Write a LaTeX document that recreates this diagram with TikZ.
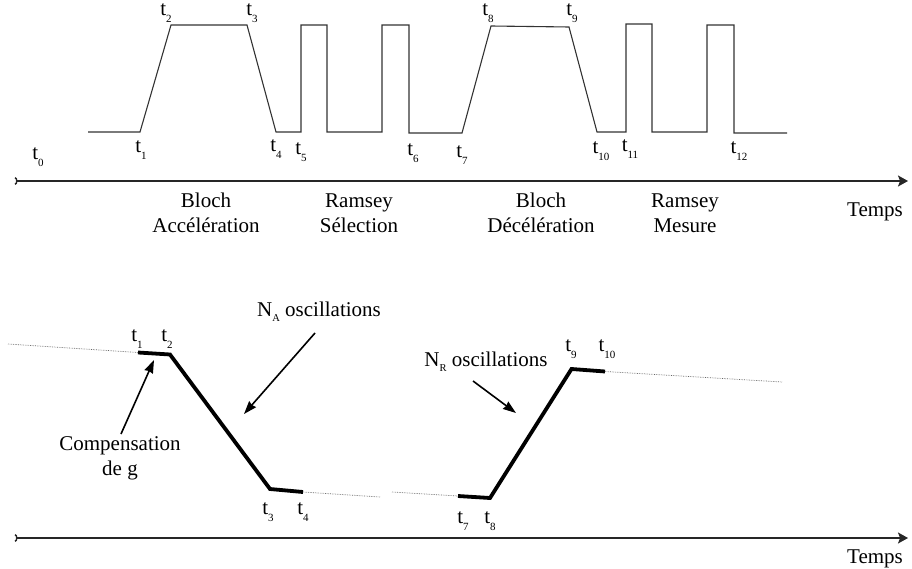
\documentclass[tikz,border=0pt]{standalone}
\usepackage{fontspec}
\setmainfont{Liberation Serif}
\usetikzlibrary{arrows.meta}
\newcommand\tsb[1]{t\raisebox{-0.3em}{\fontsize{11}{11}\selectfont #1}}
\newcommand\nsb[1]{N\raisebox{-0.25em}{\fontsize{10.5}{10.5}\selectfont #1}}
\begin{document}
\begin{tikzpicture}[x=1pt,y=-1pt,
  font=\fontsize{21}{25}\selectfont,
  wave/.style={line width=1.1pt, draw=black!80, line join=miter},
  axis/.style={line width=1.4pt, draw=black!85,
    {Arc Barb[reversed,length=2.5pt,width=8pt,line width=1.4pt]}-{Stealth[length=10pt,width=11pt,inset=2pt]}},
  heavy/.style={line width=3.8pt, line join=miter},
  dots/.style={line width=0.7pt, densely dotted, draw=black!60},
  ptr/.style={line width=1.6pt, -{Stealth[length=13pt,width=9pt,inset=1pt]}},
  lbl/.style={inner sep=0pt},
  txt/.style={align=center, inner sep=0pt}]
\useasboundingbox (0,0) rectangle (912,569);

% ---------- top: sequence ----------
\draw[wave] (88,132) -- (140,132) -- (171,25) -- (247,25) -- (276,132) -- (301,132)
  -- (301,25) -- (327,25) -- (327,132) -- (382,132) -- (382,25) -- (409,25) -- (409,133)
  -- (462,133) -- (491,26) -- (569,27) -- (597,132) -- (626,132) -- (626,24) -- (652,24)
  -- (652,132) -- (707,132) -- (707,25) -- (734,25) -- (734,133) -- (787,133);

\coordinate (a1s) at (15,181);
\coordinate (a1e) at (908,181);
\draw[axis] (a1s) -- (a1e);

\node[lbl] (t0) at (38,157) {\tsb{0}};
\node[lbl] (t1) at (141,150) {\tsb{1}};
\node[lbl] (t2) at (166,13) {\tsb{2}};
\node[lbl] (t3) at (252,13) {\tsb{3}};
\node[lbl] (t4) at (276,149) {\tsb{4}};
\node[lbl] (t5) at (301,152) {\tsb{5}};
\node[lbl] (t6) at (413,153) {\tsb{6}};
\node[lbl] (t7) at (462,155) {\tsb{7}};
\node[lbl] (t8) at (488,13) {\tsb{8}};
\node[lbl] (t9) at (572,13) {\tsb{9}};
\node[lbl] (t10) at (601,151) {\tsb{10}};
\node[lbl] (t11) at (630,149) {\tsb{11}};
\node[lbl] (t12) at (739,151) {\tsb{12}};

\node[txt] (ph1) at (206,213) {Bloch\\Accélération};
\node[txt] (ph2) at (359,213) {Ramsey\\Sélection};
\node[txt] (ph3) at (541,213) {Bloch\\Décélération};
\node[txt] (ph4) at (685,213) {Ramsey\\Mesure};
\node[txt] (temps1) at (875,212) {Temps};

% ---------- bottom: phase ----------
\coordinate (p0) at (8,344);
\coordinate (p1) at (138,352.5);
\coordinate (p2) at (170,354.5);
\coordinate (p3) at (270,489);
\coordinate (p4) at (303,492);
\coordinate (p5) at (380,497);
\coordinate (q0) at (392,492);
\coordinate (q1) at (458,496);
\coordinate (q2) at (490,498);
\coordinate (q3) at (571.5,369);
\coordinate (q4) at (605,371.5);
\coordinate (q5) at (782,382);
\draw[dots] (p0) -- (p1);
\draw[heavy] (p1) -- (p2) -- (p3) -- (p4);
\draw[dots] (p4) -- (p5);
\draw[dots] (q0) -- (q1);
\draw[heavy] (q1) -- (q2) -- (q3) -- (q4);
\draw[dots] (q4) -- (q5);

\node[lbl] (b1) at (137,339) {\tsb{1}};
\node[lbl] (b2) at (167,339) {\tsb{2}};
\node[lbl] (b3) at (268,512) {\tsb{3}};
\node[lbl] (b4) at (303,512) {\tsb{4}};
\node[lbl] (b7) at (463,521) {\tsb{7}};
\node[lbl] (b8) at (490,521) {\tsb{8}};
\node[lbl] (b9) at (571,349) {\tsb{9}};
\node[lbl] (b10) at (607,349) {\tsb{10}};

\node[txt] (na) at (319,312) {\nsb{A} oscillations};
\node[txt] (nr) at (486,362) {\nsb{R} oscillations};
\node[txt] (comp) at (120,458) {Compensation\\de g};

\coordinate (naS) at (315,333);
\coordinate (naT) at (244,414);
\coordinate (nrS) at (473,381);
\coordinate (nrT) at (516,413);
\coordinate (cS) at (121,434);
\coordinate (cT) at (154,360);
\draw[ptr] (naS) -- (naT);
\draw[ptr] (nrS) -- (nrT);
\draw[ptr] (cS) -- (cT);

\coordinate (a2s) at (15,538);
\coordinate (a2e) at (908,538);
\draw[axis] (a2s) -- (a2e);
\node[txt] (temps2) at (875,559) {Temps};
\end{tikzpicture}
\end{document}
